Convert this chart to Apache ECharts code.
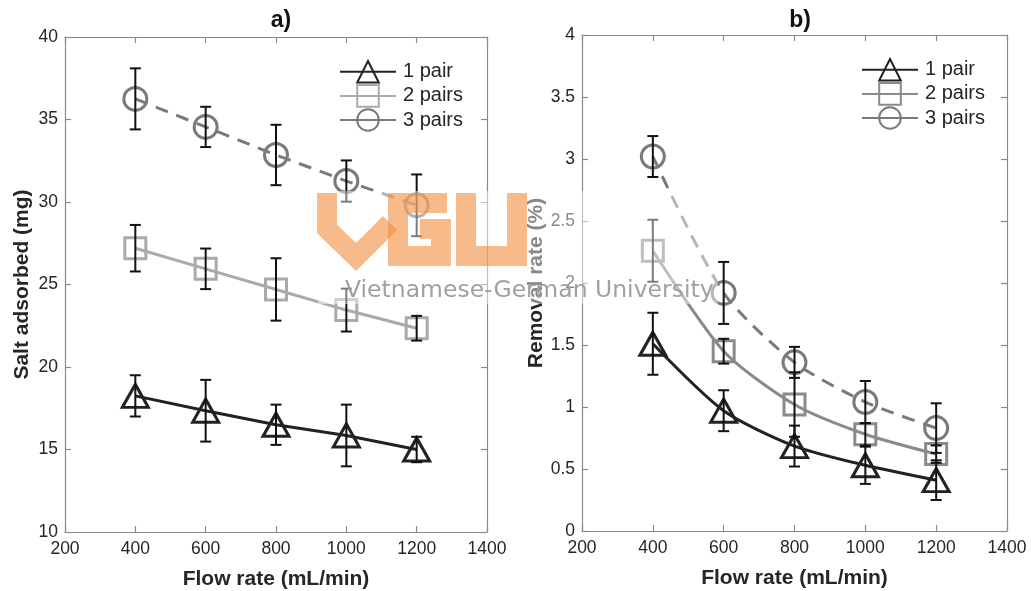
<!DOCTYPE html>
<html><head><meta charset="utf-8">
<script src="https://cdn.jsdelivr.net/npm/echarts@6/dist/echarts.min.js"></script>
<style>html,body{margin:0;padding:0;background:#fff}#c{width:1031px;height:591px}</style>
</head><body><div id="c"></div>
<script>
// ---------- data ----------
const flowRates = [400, 600, 800, 1000, 1200];
const xTicks = [200, 400, 600, 800, 1000, 1200, 1400];
const saltTicks = [10, 15, 20, 25, 30, 35, 40];
const removalTicks = [0, 0.5, 1, 1.5, 2, 2.5, 3, 3.5, 4];
const seriesNames = ['1 pair', '2 pairs', '3 pairs'];
const panelTitles = ['a)', 'b)'];
const xName = 'Flow rate (mL/min)';
const yNames = ['Salt adsorbed (mg)', 'Removal rate (%)'];

// a) salt adsorbed (mg)
const salt1 = [18.25, 17.35, 16.5, 15.85, 15.0];
const salt1Err = [1.25, 1.87, 1.22, 1.87, 0.77];
const salt2 = [27.2, 25.95, 24.7, 23.45, 22.35];
const salt2Err = [1.41, 1.23, 1.89, 1.3, 0.75];
const salt3 = [36.25, 34.55, 32.85, 31.27, 29.8];
const salt3Err = [1.85, 1.22, 1.83, 1.25, 1.87];

// b) removal rate (%)
const rem1 = [1.51, 0.97, 0.685, 0.53, 0.41];
const rem1Err = [0.25, 0.165, 0.165, 0.15, 0.16];
const rem2 = [2.26, 1.45, 1.02, 0.78, 0.62];
const rem2Err = [0.25, 0.1, 0.26, 0.09, 0.07];
const rem3 = [3.02, 1.92, 1.36, 1.04, 0.83];
const rem3Err = [0.165, 0.25, 0.125, 0.17, 0.2];

// ---------- styling ----------
const FONT = 'Liberation Sans';
const AXIS_GRAY = '#8a8a8a';
const TEXT = '#262626';
const styles = [
  [ {color:'#222222', symbol:'triangle', size:[26,23], type:'solid'},
    {color:'#aaaaaa', symbol:'rect', size:21, type:'solid'},
    {color:'#7a7a7a', symbol:'circle', size:23, type:'dashed'} ],
  [ {color:'#222222', symbol:'triangle', size:[26,23], type:'solid'},
    {color:'#8a8a8a', symbol:'rect', size:21, type:'solid'},
    {color:'#7a7a7a', symbol:'circle', size:23, type:'dashed'} ]
];
const panels = [
  {vals:[salt1,salt2,salt3], errs:[salt1Err,salt2Err,salt3Err], ticks:saltTicks, smooth:false, suffix:''},
  {vals:[rem1,rem2,rem3], errs:[rem1Err,rem2Err,rem3Err], ticks:removalTicks, smooth:0.25, suffix:' '}
];
const grids = [
  {left:65, top:37, width:422, height:495, containLabel:false, outerBoundsMode:'none'},
  {left:582, top:35, width:425, height:496, containLabel:false, outerBoundsMode:'none'}
];

function xAx(g, pos) {
  return {
    type:'value', gridIndex:g, position:pos,
    min:xTicks[0], max:xTicks[xTicks.length-1], interval:xTicks[1]-xTicks[0],
    name: pos==='bottom' ? xName : '', nameLocation:'middle', nameGap:37,
    nameTextStyle:{fontFamily:FONT, fontWeight:'bold', fontSize:21, color:TEXT},
    axisLine:{show:true, onZero:false, lineStyle:{color:AXIS_GRAY, width:1.2}},
    axisTick:{show:true, inside:true, length:6, lineStyle:{color:AXIS_GRAY, width:1.2}},
    axisLabel:{show:pos==='bottom', fontFamily:FONT, fontSize:17.5, color:TEXT, margin:8,
      formatter: v => String(v)},
    splitLine:{show:false}
  };
}
function yAx(g, pos, ticks, name) {
  return {
    type:'value', gridIndex:g, position:pos,
    min:ticks[0], max:ticks[ticks.length-1], interval:ticks[1]-ticks[0],
    name: pos==='left' ? name : '', nameLocation:'middle', nameGap:32,
    nameTextStyle:{fontFamily:FONT, fontWeight:'bold', fontSize:21, color:TEXT},
    axisLine:{show:true, onZero:false, lineStyle:{color:AXIS_GRAY, width:1.2}},
    axisTick:{show:true, inside:true, length:6, lineStyle:{color:AXIS_GRAY, width:1.2}},
    axisLabel:{show:pos==='left', fontFamily:FONT, fontSize:17.5, color:TEXT, margin:7,
      formatter: v => String(v)},
    splitLine:{show:false}
  };
}

const xAxes = [], yAxes = [], series = [], legends = [], titles = [];
panels.forEach((p, pi) => {
  xAxes.push(xAx(pi, 'bottom'), xAx(pi, 'top'));
  yAxes.push(yAx(pi, 'left', p.ticks, yNames[pi]), yAx(pi, 'right', p.ticks, ''));
  const xi = pi*2, yi = pi*2;
  p.vals.forEach((v, si) => {
    const st = styles[pi][si];
    series.push({
      type:'line', name: seriesNames[si] + p.suffix, xAxisIndex:xi, yAxisIndex:yi,
      data: flowRates.map((x, i) => [x, v[i]]),
      smooth: p.smooth, symbol: st.symbol, symbolSize: st.size, showSymbol:true,
      lineStyle:{color:st.color, width:3, type: st.type==='dashed' ? [13,9] : 'solid'},
      itemStyle:{color:'rgba(0,0,0,0)', borderColor:st.color, borderWidth:3},
      emphasis:{disabled:true}, z:2, animation:false
    });
  });
  p.vals.forEach((v, si) => {
    const e = p.errs[si];
    series.push({
      type:'custom', xAxisIndex:xi, yAxisIndex:yi, silent:true, z:4, animation:false,
      data: flowRates.map((x, i) => [x, v[i]-e[i], v[i]+e[i]]),
      encode:{x:0, y:[1,2]},
      renderItem:(params, api) => {
        const x = api.value(0);
        const lo = api.coord([x, api.value(1)]);
        const hi = api.coord([x, api.value(2)]);
        const w = 5.5;
        const style = {stroke:'#111', lineWidth:2};
        return {type:'group', children:[
          {type:'line', shape:{x1:lo[0], y1:lo[1], x2:hi[0], y2:hi[1]}, style},
          {type:'line', shape:{x1:lo[0]-w, y1:lo[1], x2:lo[0]+w, y2:lo[1]}, style},
          {type:'line', shape:{x1:hi[0]-w, y1:hi[1], x2:hi[0]+w, y2:hi[1]}, style}
        ]};
      }
    });
  });
  legends.push({
    left: pi===0 ? 334 : 856, top: pi===0 ? 55 : 53,
    orient:'vertical', itemWidth:56, itemHeight:27, itemGap:0.5, selectedMode:false,
    textStyle:{fontFamily:FONT, fontSize:20, color:TEXT, padding:[0,0,0,2]},
    data: seriesNames.map(n => ({name: n + p.suffix, lineStyle:{type:'solid'}}))
  });
  titles.push({
    text: panelTitles[pi], left: pi===0 ? 276 : 795, top: 4, textAlign:'center',
    textStyle:{fontFamily:FONT, fontWeight:'bold', fontSize:23, color:'#111'}
  });
});

// watermark overlay
const wmOrange = 'rgba(242,140,60,0.6)';
const graphic = [
  {type:'rect', z:100, shape:{x:318, y:191, width:400, height:113}, style:{fill:'rgba(255,255,255,0.45)'}, silent:true},
  {type:'polyline', z:101, shape:{points:[[327,193],[327,229],[356,257],[390,223]]}, style:{stroke:wmOrange, lineWidth:20, fill:null, lineJoin:'miter'}, silent:true},
  {type:'polyline', z:101, shape:{points:[[447,203],[398,203],[398,256],[441,256],[441,229],[420,229]]}, style:{stroke:wmOrange, lineWidth:20, fill:null, lineJoin:'miter'}, silent:true},
  {type:'polyline', z:101, shape:{points:[[466,193],[466,256],[517,256],[517,193]]}, style:{stroke:wmOrange, lineWidth:20, fill:null, lineJoin:'miter'}, silent:true},
  {type:'text', z:102, left:345, top:279, style:{text:'Vietnamese-German University', fontFamily:'DejaVu Sans', fontSize:23.5, fill:'#a0a0a0'}, silent:true}
];

const chart = echarts.init(document.getElementById('c'), null, {renderer:'canvas'});
chart.setOption({
  animation:false, backgroundColor:'#ffffff',
  title: titles, legend: legends, grid: grids,
  xAxis: xAxes, yAxis: yAxes, series: series, graphic: graphic
});
</script></body></html>
